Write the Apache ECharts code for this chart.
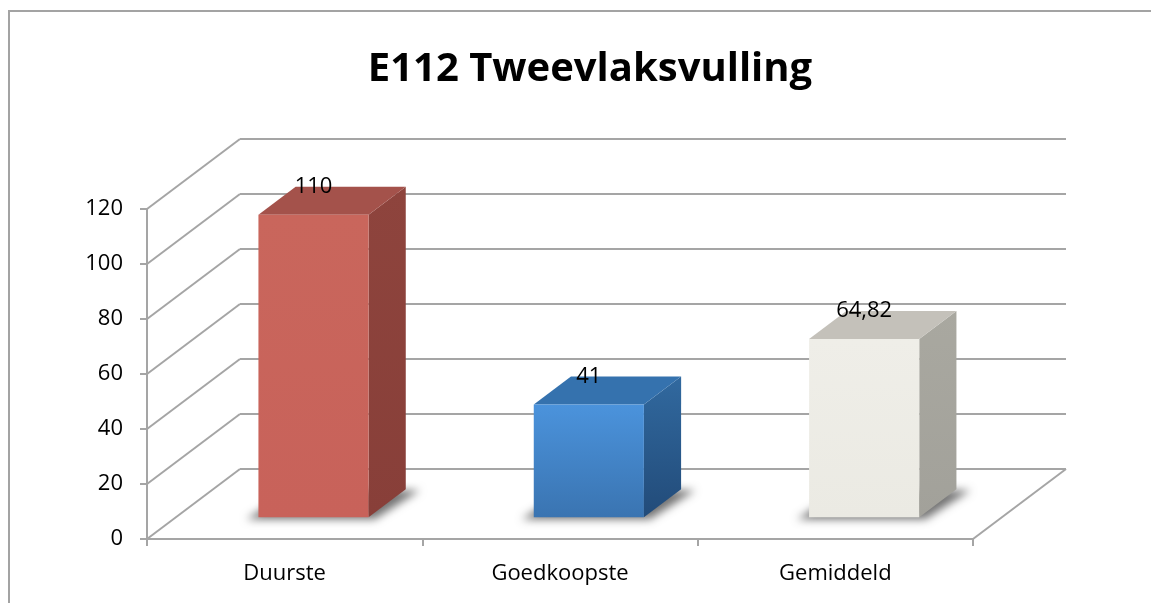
<!DOCTYPE html>
<html>
<head>
<meta charset="utf-8">
<title>E112 Tweevlaksvulling</title>
<script src="https://cdn.jsdelivr.net/npm/echarts@6/dist/echarts.min.js"></script>
<style>
  html, body { margin: 0; padding: 0; background: #fff; }
  #chart { width: 1151px; height: 603px; }
</style>
</head>
<body>
<div id="chart"></div>
<script>
// data
const categories = ['Duurste', 'Goedkoopste', 'Gemiddeld']
const prices = [110, 41, 64.82]
const yTicks = [0, 20, 40, 60, 80, 100, 120]

// kleuren per balk: voorkant, zijkant, bovenkant
const faceColors = [
  { front: ['#c9665c', '#c8625a'], side: ['#8e443d', '#883f39'], top: '#a4524b' },
  { front: ['#4b93dc', '#3a74b1'], side: ['#31699f', '#224b79'], top: '#3572ae' },
  { front: ['#efeee8', '#ebeae3'], side: ['#a9a8a0', '#a2a19a'], top: '#c4c1ba' }
]

const GRID = '#a5a5a5'
// diepte-vector van voorvlak naar achterwand (pixels)
const DEPTH = [93, -70]
const BAR_FRONT = 0.31 // fractie van de diepte waar de balk begint
const BAR_BACK = 0.71

const chart = echarts.init(document.getElementById('chart'))

function vgrad (c) {
  return new echarts.graphic.LinearGradient(0, 0, 0, 1, [
    { offset: 0, color: c[0] },
    { offset: 1, color: c[1] }
  ])
}

// achterwand + zijwand rasterlijnen
function renderWall (params, api) {
  const cs = params.coordSys
  const p = api.coord([0, api.value(1)])
  const y = p[1]
  const x0 = cs.x
  const x1 = cs.x + cs.width
  const children = [
    { type: 'line', shape: { x1: x0, y1: y, x2: x0 + DEPTH[0], y2: y + DEPTH[1] }, style: { stroke: GRID, lineWidth: 2 } },
    { type: 'line', shape: { x1: x0 + DEPTH[0], y1: y + DEPTH[1], x2: x1 + DEPTH[0], y2: y + DEPTH[1] }, style: { stroke: GRID, lineWidth: 2 } }
  ]
  if (api.value(1) === 0) {
    // rechterrand van de vloer
    children.push({ type: 'line', shape: { x1: x1, y1: y, x2: x1 + DEPTH[0], y2: y + DEPTH[1] }, style: { stroke: GRID, lineWidth: 2 } })
  }
  return { type: 'group', children: children }
}

// 3D-balk
function renderBar (params, api) {
  const idx = api.value(0)
  const val = api.value(1)
  const base = api.coord([idx, 0])
  const top = api.coord([idx, val])
  const bw = api.size([1, 0])[0]
  const w = bw * 0.4
  const fx = DEPTH[0] * BAR_FRONT
  const fy = DEPTH[1] * BAR_FRONT
  const ddx = DEPTH[0] * (BAR_BACK - BAR_FRONT)
  const ddy = DEPTH[1] * (BAR_BACK - BAR_FRONT)
  const x0 = base[0] - w / 2 + fx
  const x1 = x0 + w
  const yT = top[1] + fy
  const yB = base[1] + fy
  const c = faceColors[idx]
  const off = 3000
  const label = String(val).replace('.', ',')
  return {
    type: 'group',
    children: [
      {
        // zachte schaduw op de vloer (vorm buiten beeld, alleen schaduw zichtbaar)
        type: 'polygon',
        shape: { points: [
          [x0 - 12 - off, yB + 2], [x0 + ddx - 4 - off, yB + ddy + 1],
          [x1 + ddx + 14 - off, yB + ddy + 1], [x1 + 6 - off, yB + 2]
        ] },
        style: { fill: '#000', shadowBlur: 9, shadowColor: 'rgba(0,0,0,0.55)', shadowOffsetX: off }
      },
      {
        type: 'polygon',
        shape: { points: [[x1, yT], [x1 + ddx, yT + ddy], [x1 + ddx, yB + ddy], [x1, yB]] },
        style: { fill: vgrad(c.side) }
      },
      {
        type: 'polygon',
        shape: { points: [[x0, yT], [x0 + ddx, yT + ddy], [x1 + ddx, yT + ddy], [x1, yT]] },
        style: { fill: c.top }
      },
      {
        type: 'rect',
        shape: { x: x0, y: yT, width: w, height: yB - yT },
        style: { fill: vgrad(c.front) }
      },
      {
        type: 'text',
        x: x0 + w / 2,
        y: yT + ddy,
        style: {
          text: label,
          fill: '#000',
          font: '22px "Open Sans"',
          align: 'center',
          verticalAlign: 'middle'
        }
      }
    ]
  }
}

chart.setOption({
  animation: false,
  title: {
    text: 'E112 Tweevlaksvulling',
    left: 585,
    textAlign: 'center',
    top: 45,
    textStyle: {
      fontFamily: 'Open Sans',
      fontWeight: 'bold',
      fontSize: 40,
      color: '#000'
    }
  },
  graphic: [{
    type: 'rect',
    shape: { x: 9, y: 11, width: 1400, height: 800 },
    style: { fill: 'none', stroke: '#a3a3a3', lineWidth: 2 },
    z: -10
  }],
  grid: {
    left: 147,
    right: 178,
    top: 209,
    bottom: 64
  },
  xAxis: {
    type: 'category',
    data: categories,
    axisLine: { lineStyle: { color: GRID, width: 2 } },
    axisTick: { show: true, length: 7, interval: 0, lineStyle: { color: GRID, width: 2 } },
    axisLabel: { fontFamily: 'Open Sans', fontSize: 22, color: '#000', margin: 24 },
    splitLine: { show: false }
  },
  yAxis: {
    type: 'value',
    min: 0,
    max: 120,
    interval: 20,
    axisLine: { show: true, lineStyle: { color: GRID, width: 2 } },
    axisTick: { show: true, length: 7, lineStyle: { color: GRID, width: 2 } },
    axisLabel: { fontFamily: 'Open Sans', fontSize: 22, color: '#000', margin: 24 },
    splitLine: { show: false }
  },
  series: [
    {
      type: 'custom',
      name: 'wand',
      renderItem: renderWall,
      data: yTicks.map(v => [0, v]),
      z: 1,
      silent: true
    },
    {
      type: 'custom',
      name: 'prijs',
      renderItem: renderBar,
      data: prices.map((v, i) => [i, v]),
      z: 5
    }
  ]
})
</script>
</body>
</html>
